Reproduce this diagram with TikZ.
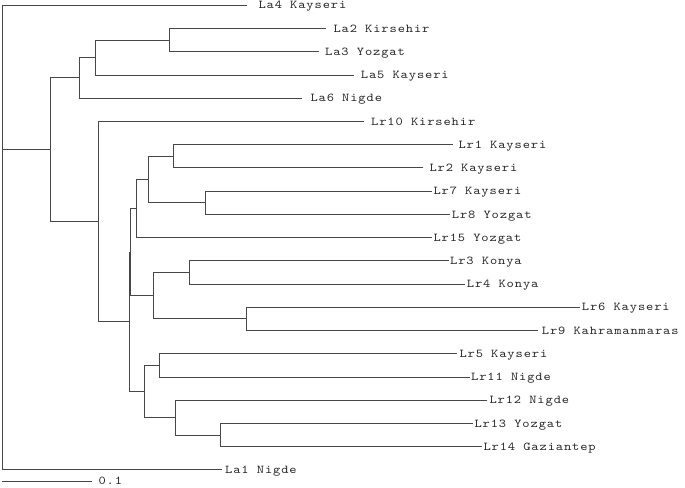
\documentclass[tikz,border=0pt]{standalone}
\usepackage{fontspec}
\newfontfamily\labfont{lmmono10-regular.otf}[FakeStretch=1.15,LetterSpace=7.5]
\begin{document}
\begin{tikzpicture}[x=1pt,y=-1pt,
  branch/.style={draw=black!72,line width=0.9pt},
  leaflabel/.style={anchor=base west,inner sep=0pt,font=\labfont\fontsize{12}{12}\selectfont,text=black!85}]
\useasboundingbox (0,0) rectangle (685,487);
% leaves (end of branch)
\coordinate (La4) at (246.7,5.3);
\coordinate (La2) at (326,28.53);
\coordinate (La3) at (318.7,51.76);
\coordinate (La5) at (354.3,74.99);
\coordinate (La6) at (302.3,98.22);
\coordinate (Lr10) at (364.3,121.45);
\coordinate (Lr1) at (453,144.68);
\coordinate (Lr2) at (422.7,167.91);
\coordinate (Lr7) at (431.7,191.14);
\coordinate (Lr8) at (450,214.37);
\coordinate (Lr15) at (431.7,237.6);
\coordinate (Lr3) at (449.3,260.83);
\coordinate (Lr4) at (465,284.06);
\coordinate (Lr6) at (580,307.29);
\coordinate (Lr9) at (538.3,330.52);
\coordinate (Lr5) at (456.7,353.75);
\coordinate (Lr11) at (470,376.98);
\coordinate (Lr12) at (487.3,400.21);
\coordinate (Lr13) at (472.7,423.44);
\coordinate (Lr14) at (481.7,446.67);
\coordinate (La1) at (221.7,469.9);
% internal nodes
\coordinate (root) at (2,149.75);
\coordinate (n1) at (50.7,149.75);
\coordinate (nLa) at (79,77.9);
\coordinate (n235) at (95.7,57.57);
\coordinate (n23) at (169,40.15);
\coordinate (nLr10) at (98.3,221.6);
\coordinate (nB) at (129,321.8);
\coordinate (nA) at (130.2,252.1);
\coordinate (nU) at (136.7,208.57);
\coordinate (n1278) at (148.3,179.53);
\coordinate (n12) at (173.3,156.3);
\coordinate (n78) at (205.3,202.76);
\coordinate (nM) at (153.3,295.7);
\coordinate (n34) at (189.3,272.45);
\coordinate (n69) at (246,318.9);
\coordinate (nL) at (144,391.5);
\coordinate (n511) at (159,365.37);
\coordinate (n121314) at (175.7,417.6);
\coordinate (n1314) at (220,435.06);
% branches
\path[branch] (root) |- (La4) (root) -- (n1) (root) |- (La1);
\path[branch] (n1) |- (nLa) (n1) |- (nLr10);
\path[branch] (nLa) |- (n235) (nLa) |- (La6);
\path[branch] (n235) |- (n23) (n235) |- (La5);
\path[branch] (n23) |- (La2) (n23) |- (La3);
\path[branch] (nLr10) |- (Lr10) (nLr10) |- (nB);
\path[branch] (nB) |- (nA) (nB) |- (nL);
\path[branch] (nA) |- (nU) (nA) |- (nM);
\path[branch] (nU) |- (n1278) (nU) |- (Lr15);
\path[branch] (n1278) |- (n12) (n1278) |- (n78);
\path[branch] (n12) |- (Lr1) (n12) |- (Lr2);
\path[branch] (n78) |- (Lr7) (n78) |- (Lr8);
\path[branch] (nM) |- (n34) (nM) |- (n69);
\path[branch] (n34) |- (Lr3) (n34) |- (Lr4);
\path[branch] (n69) |- (Lr6) (n69) |- (Lr9);
\path[branch] (nL) |- (n511) (nL) |- (n121314);
\path[branch] (n511) |- (Lr5) (n511) |- (Lr11);
\path[branch] (n121314) |- (Lr12) (n121314) |- (n1314);
\path[branch] (n1314) |- (Lr13) (n1314) |- (Lr14);
% labels
\node[leaflabel] (tLa4) at (258.3,8.9) {La4 Kayseri};
\node[leaflabel] (tLa2) at (333.3,32.1) {La2 Kirsehir};
\node[leaflabel] (tLa3) at (325,55.4) {La3 Yozgat};
\node[leaflabel] (tLa5) at (360.7,78.6) {La5 Kayseri};
\node[leaflabel] (tLa6) at (310.3,101.8) {La6 Nigde};
\node[leaflabel] (tLr10) at (371,125.1) {Lr10 Kirsehir};
\node[leaflabel] (tLr1) at (458.3,148.3) {Lr1 Kayseri};
\node[leaflabel] (tLr2) at (429.3,171.5) {Lr2 Kayseri};
\node[leaflabel] (tLr7) at (433.3,194.7) {Lr7 Kayseri};
\node[leaflabel] (tLr8) at (451.7,218) {Lr8 Yozgat};
\node[leaflabel] (tLr15) at (433.3,241.2) {Lr15 Yozgat};
\node[leaflabel] (tLr3) at (450,264.4) {Lr3 Konya};
\node[leaflabel] (tLr4) at (466.7,287.7) {Lr4 Konya};
\node[leaflabel] (tLr6) at (581.7,310.9) {Lr6 Kayseri};
\node[leaflabel] (tLr9) at (541.7,334.1) {Lr9 Kahramanmaras};
\node[leaflabel] (tLr5) at (459.3,357.4) {Lr5 Kayseri};
\node[leaflabel] (tLr11) at (471,380.6) {Lr11 Nigde};
\node[leaflabel] (tLr12) at (489.3,403.8) {Lr12 Nigde};
\node[leaflabel] (tLr13) at (474.3,427) {Lr13 Yozgat};
\node[leaflabel] (tLr14) at (483.3,450.3) {Lr14 Gaziantep};
\node[leaflabel] (tLa1) at (225,473.5) {La1 Nigde};
% scale bar
\coordinate (sb0) at (2,481);
\coordinate (sb1) at (92,481);
\path[branch] (sb0) -- (sb1);
\node[leaflabel] (tsb) at (98.3,484.3) {0.1};
\end{tikzpicture}
\end{document}
